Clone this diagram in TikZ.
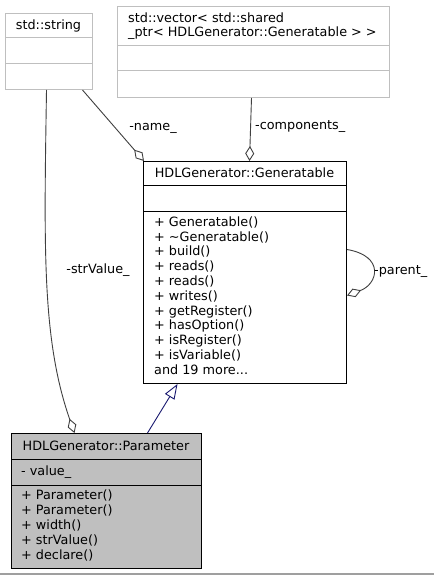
\documentclass[tikz,border=0pt]{standalone}
\usepackage{fontspec}
\setmainfont{DejaVu Sans}
\usetikzlibrary{arrows.meta,calc}
\definecolor{boxgray}{HTML}{BFBFBF}
\definecolor{edgegray}{HTML}{404040}
\definecolor{inhblue}{HTML}{191970}
\begin{document}
\begin{tikzpicture}[x=1pt,y=-1pt,
  txt/.style={font=\fontsize{12.8}{14.8}\selectfont, inner sep=0pt, text=black},
  lightclass/.style={draw=boxgray, line width=1pt, rectangle, inner sep=0pt, anchor=north west},
  darkclass/.style={draw=black, line width=1pt, rectangle, inner sep=0pt, anchor=north west},
  aggr/.style={draw=edgegray, line width=0.9pt, -{Diamond[open, length=15pt, width=9pt, line width=0.9pt]}},
  inh/.style={draw=inhblue, line width=0.9pt, -{Triangle[open, length=15pt, width=11pt, line width=0.9pt]}}
]
\useasboundingbox (0,0) rectangle (434,575);
\fill[white] (0,0) rectangle (434,575);

% std::string
\node[lightclass, minimum width=87pt, minimum height=76pt] (str) at (5,13) {};
\draw[boxgray, line width=1pt] (5,38) -- (92,38) (5,64) -- (92,64);
\node[txt] (strtitle) at (48.5,25.5) {std::string};

% vector
\node[lightclass, minimum width=272pt, minimum height=91pt] (vec) at (117,6) {};
\draw[boxgray, line width=1pt] (117,46) -- (389,46) (117,71) -- (389,71);
\node[txt, anchor=west] (vect1) at (128,18) {std::vector< std::shared};
\node[txt, anchor=west] (vect2) at (128,33) {\_ptr< HDLGenerator::Generatable > >};

% Generatable
\node[darkclass, minimum width=203pt, minimum height=222pt] (gen) at (143,161) {};
\draw[black, line width=1pt] (143,185) -- (346,185) (143,211) -- (346,211);
\node[txt] (gentitle) at (244.5,173) {HDLGenerator::Generatable};
\node[txt, anchor=west, align=left] (genops) at (154,295.5) {+ Generatable()\\+ \textasciitilde Generatable()\\+ build()\\+ reads()\\+ reads()\\+ writes()\\+ getRegister()\\+ hasOption()\\+ isRegister()\\+ isVariable()\\and 19 more...};

% Parameter
\node[darkclass, fill=boxgray, minimum width=190pt, minimum height=135pt] (param) at (11,433) {};
\draw[black, line width=1pt] (11,459) -- (201,459) (11,485) -- (201,485);
\node[txt] (paramtitle) at (106,446) {HDLGenerator::Parameter};
\node[txt, anchor=west] (paramattr) at (21,472) {- value\_};
\node[txt, anchor=west, align=left] (paramops) at (21,525.5) {+ Parameter()\\+ Parameter()\\+ width()\\+ strValue()\\+ declare()};

% edges
\draw[aggr] ([xshift=33.5pt]str.south) -- ([xshift=1pt]gen.north west);
\node[txt] (lname) at (153,128) {-name\_};

\draw[aggr] ([xshift=-2pt]vec.south) -- ([xshift=4.5pt]gen.north);
\node[txt, anchor=west] (lcomp) at (255,127) {-components\_};

\draw[aggr] ([yshift=23pt]gen.east) .. controls (385,256) and (378,284) .. ([yshift=-23pt]gen.east);
\node[txt, anchor=west] (lparent) at (374,272) {-parent\_};

\draw[aggr] ([xshift=-2.5pt]str.south) .. controls (44,250) and (42,340) .. ([xshift=-32pt]param.north);
\node[txt] (lstr) at (98,270) {-strValue\_};

\draw[inh] ([xshift=41pt]param.north) -- ([xshift=-67.5pt]gen.south);

% bottom rule
\draw[gray!75, line width=1.5pt] (0,574) -- (434,574);
\end{tikzpicture}
\end{document}
